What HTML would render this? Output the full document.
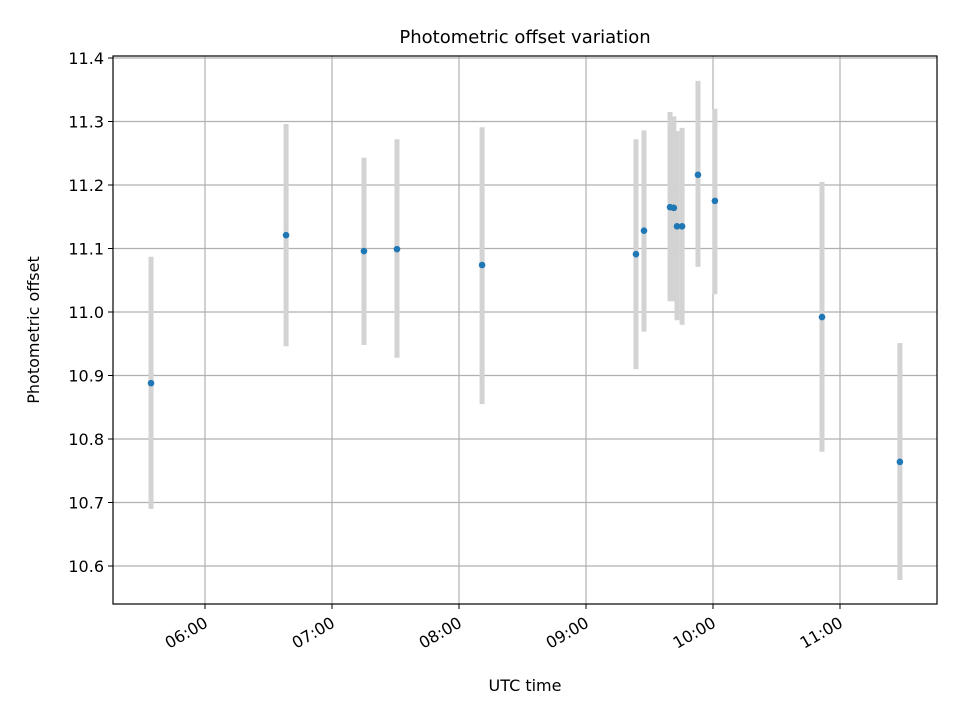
<!DOCTYPE html>
<html><head><meta charset="utf-8"><style>
body{margin:0;background:#fff;font-family:"Liberation Sans","DejaVu Sans",sans-serif}
svg text{font-family:"DejaVu Sans","Liberation Sans",sans-serif}
</style></head><body>
<svg id="chart" width="960" height="720" xmlns="http://www.w3.org/2000/svg">
<rect width="960" height="720" fill="#fff"/>
<g id="grid"></g><g id="errs"></g><g id="pts"></g>
<rect x="113" y="56" width="824" height="548" fill="none" stroke="#000" stroke-width="1.2"/>
<g id="axes"></g>
<text x="525" y="43" font-size="18" text-anchor="middle">Photometric offset variation</text>
<text x="525" y="691" font-size="16" text-anchor="middle">UTC time</text>
<text x="39" y="330" font-size="16" text-anchor="middle" transform="rotate(-90 39 330)">Photometric offset</text>
</svg>
<script>
const times=[334.5,398.3,435.1,450.7,490.9,563.6,567.4,579.7,581.5,583,585.4,592.9,600.9,651.5,688.3];
const values=[10.888,11.121,11.096,11.099,11.074,11.091,11.128,11.165,11.164,11.135,11.135,11.216,11.175,10.992,10.764];
const lows=[10.690,10.946,10.948,10.928,10.855,10.910,10.969,11.017,11.017,10.987,10.980,11.071,11.028,10.780,10.578];
const highs=[11.087,11.296,11.243,11.272,11.291,11.272,11.286,11.315,11.308,11.285,11.290,11.364,11.320,11.205,10.951];
const yTicks=[10.6,10.7,10.8,10.9,11.0,11.1,11.2,11.3,11.4];
const xTicks=[360,420,480,540,600,660];
const xTickLabels=["06:00","07:00","08:00","09:00","10:00","11:00"];
const X=m=>205+(m-360)*127/60;
const Y=v=>566-(v-10.6)*635;
const NS="http://www.w3.org/2000/svg";
function mk(p,t,a){const e=document.createElementNS(NS,t);for(const k in a)e.setAttribute(k,a[k]);document.getElementById(p).appendChild(e);return e;}
yTicks.forEach(v=>{
 const g=mk('grid','line',{x1:113,x2:937,y1:Y(v),y2:Y(v),stroke:'#b0b0b0','stroke-width':1.2});
 
 
 mk('axes','line',{x1:108,x2:113,y1:Y(v),y2:Y(v),stroke:'#000'});
 const t=mk('axes','text',{x:104,y:Y(v)+6,'font-size':16,'text-anchor':'end'});
 t.textContent=v.toFixed(1);
 
 
});
xTicks.forEach((m,i)=>{
 const g=mk('grid','line',{x1:X(m),x2:X(m),y1:56,y2:604,stroke:'#b0b0b0','stroke-width':1.2});
 
 
 mk('axes','line',{x1:X(m),x2:X(m),y1:604,y2:609,stroke:'#000'});
 const t=mk('axes','text',{x:X(m)+4,y:626,'font-size':16,'text-anchor':'end',transform:`rotate(-30 ${X(m)+4} 626)`});
 t.textContent=xTickLabels[i];
 
 
});
times.forEach((m,i)=>{
 const e=mk('errs','line',{x1:X(m),x2:X(m),y1:Y(highs[i]),y2:Y(lows[i]),stroke:'#d3d3d3','stroke-width':5});
 
 
});
times.forEach((m,i)=>{
 const c=mk('pts','circle',{cx:X(m),cy:Y(values[i]),r:3.3,fill:'#1f77b4'});
 
 
});
</script>
</body></html>
